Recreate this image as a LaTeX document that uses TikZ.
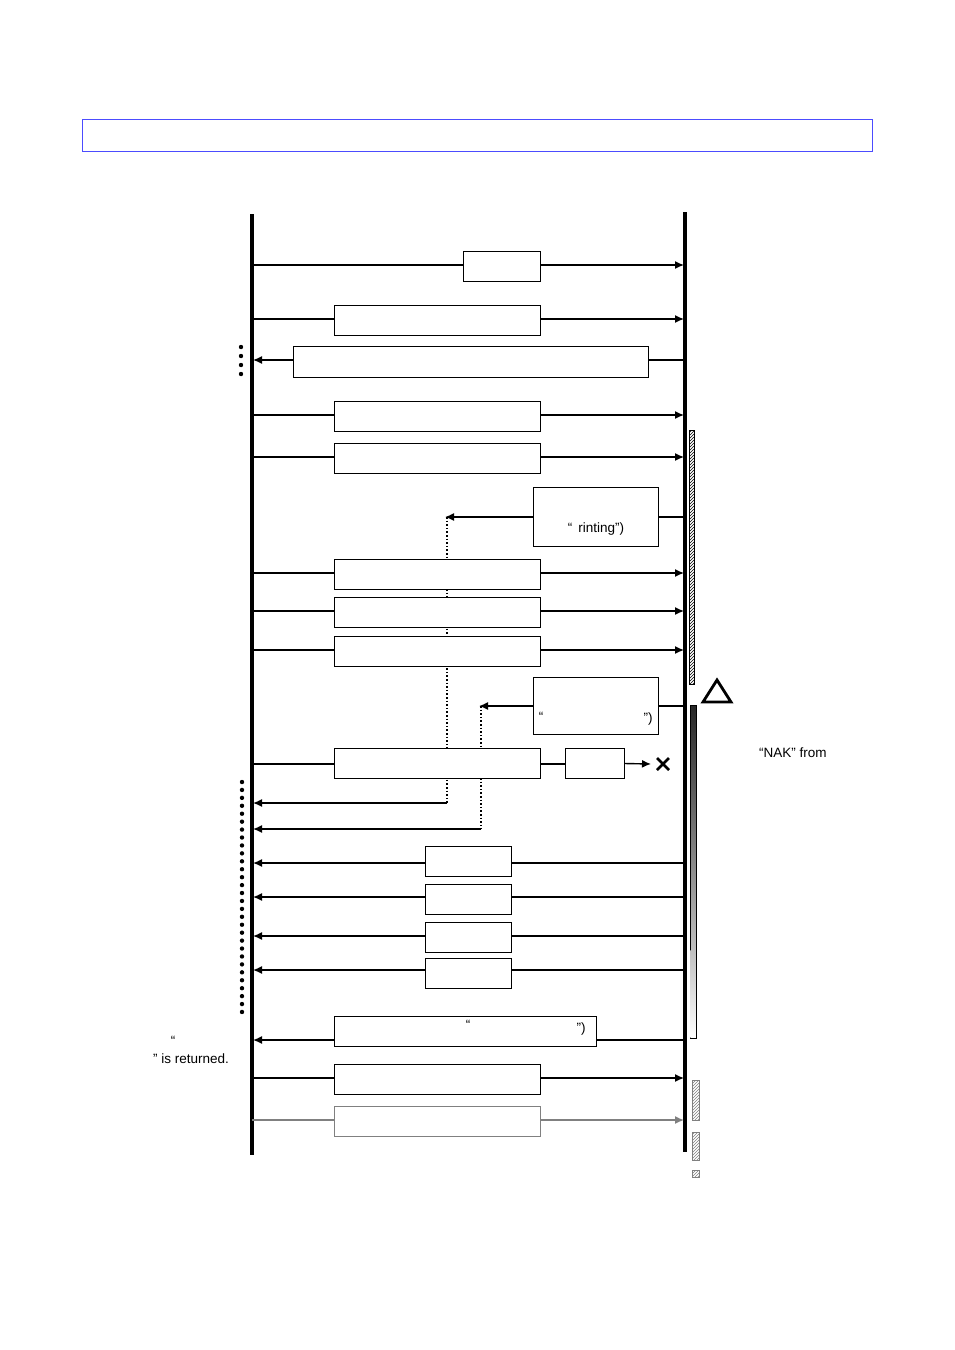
\documentclass[tikz,border=0pt]{standalone}
\usepackage{fontspec}
\setmainfont{Liberation Sans}
\usetikzlibrary{arrows.meta,patterns}
\begin{document}
\begin{tikzpicture}[x=1pt,y=-1pt,
  msg/.style={line width=1.4pt},
  arr/.style={msg,-{Latex[length=9pt,width=8pt]}},
  box/.style={draw,line width=1pt,fill=white},
  life/.style={line width=3.8pt},
  dotl/.style={line width=1.6pt,dotted},
  txt/.style={font=\fontsize{13.5}{15}\selectfont,inner sep=0pt},
  hatch/.style={draw,line width=0.6pt,pattern=north east lines}]
\useasboundingbox (0,0) rectangle (954,1350);
\draw[blue!70,line width=0.8pt] (82,119) rectangle (872,151);
\coordinate (Lt) at (252,214); \coordinate (Lb) at (252,1155);
\coordinate (Rt) at (685,212); \coordinate (Rb) at (685,1152);
\draw[life] (Lt) -- (Lb); \draw[life] (Rt) -- (Rb);
% right-going
\foreach \y/\a/\b [count=\i] in {265/463/540,319/334/540,415/334/540,457/334/540,573/334/540,611/334/540,650/334/540,1078/334/540}{
  \draw[arr] (252,\y) -- (684,\y);
  \node[box,minimum width={\b-\a},minimum height=30pt] (r\i) at ({(\a+\b)/2},\y+1.5) {};
}
% left-going
\draw[arr] (683,360) -- (253,360);
\node[box,minimum width=355pt,minimum height=31pt] (l1) at (470.5,362) {};
\foreach \y/\c [count=\i] in {863/861.5,897/899,936/937.5,970/973}{
  \draw[arr] (683,\y) -- (253,\y);
  \node[box,minimum width=86pt,minimum height=30pt] (s\i) at (468,\c) {};
}
\draw[arr] (683,1040) -- (253,1040);
\node[box,minimum width=262pt,minimum height=30pt] (l2) at (465,1031.5) {};
\node[txt] at (468,1025) {“};
\node[txt] at (581,1029) {”)};
% gray
\draw[gray,line width=1.4pt,-{Latex[length=9pt,width=8pt]}] (252,1120) -- (684,1120);
\node[draw=gray,line width=1pt,fill=white,minimum width=206pt,minimum height=30pt] (g1) at (437,1121.5) {};
% response boxes with dotted
\draw[msg] (658,517) -- (685,517);
\node[box,minimum width=125pt,minimum height=59pt] (p1) at (595.5,517) {};
\node[txt] at (596,529) {“\hspace{6pt}rinting”)};
\draw[arr] (533,517) -- (445,517);
\draw[dotl] (447,517) -- (447,803);
\draw[arr] (447,803) -- (253,803);
\draw[msg] (658,706) -- (685,706);
\node[box,minimum width=125pt,minimum height=57pt] (p2) at (595.5,706) {};
\node[txt] at (541,717) {“}; \node[txt] at (648,719) {”)};
\draw[arr] (533,706) -- (479,706);
\draw[dotl] (481,706) -- (481,829);
\draw[arr] (481,829) -- (253,829);
% redraw right boxes over dotted lines
\foreach \y in {573,611,650}{\node[box,minimum width=206pt,minimum height=30pt] at (437,\y+1.5) {};}
% failed message
\draw[msg] (252,764) -- (334,764);
\draw[msg] (540,764) -- (565,764);
\node[box,minimum width=206pt,minimum height=30pt] (f1) at (437,763.5) {};
\node[box,minimum width=59pt,minimum height=30pt] (f2) at (594.5,763.5) {};
\draw[arr] (f2.east) -- (651,764);
\draw[line width=2.6pt] (657,758) -- (669,770) (657,770) -- (669,758);
% dots
\foreach \y in {347,356,365,374}{\fill (241,\y) circle (2.2pt);}
\foreach \k in {0,...,29}{\fill (242,{782+\k*7.93}) circle (2.2pt);}
% right side bars
\draw[hatch] (689,430) rectangle (694,684);
\draw[line width=2.8pt,line join=miter] (717,680) -- (731,702) -- (703,702) -- cycle;
\shade[top color=black!85,bottom color=black!25] (690,705) rectangle (696,950);
\draw[line width=0.6pt] (690,705) rectangle (696,1038);
\shade[top color=black!25,bottom color=white] (690.3,950) rectangle (695.7,1037.7);
\node[txt,anchor=west] at (759,753) {“NAK” from};
\draw[hatch,draw=gray,pattern color=gray] (692,1080) rectangle (699,1120);
\draw[hatch,draw=gray,pattern color=gray] (692,1132) rectangle (699,1160);
\draw[hatch,draw=gray,pattern color=gray] (692,1170) rectangle (699,1177);
% left text
\node[txt] at (173,1041) {“};
\node[txt,anchor=east] at (229,1059) {” is returned.};
\end{tikzpicture}
\end{document}
